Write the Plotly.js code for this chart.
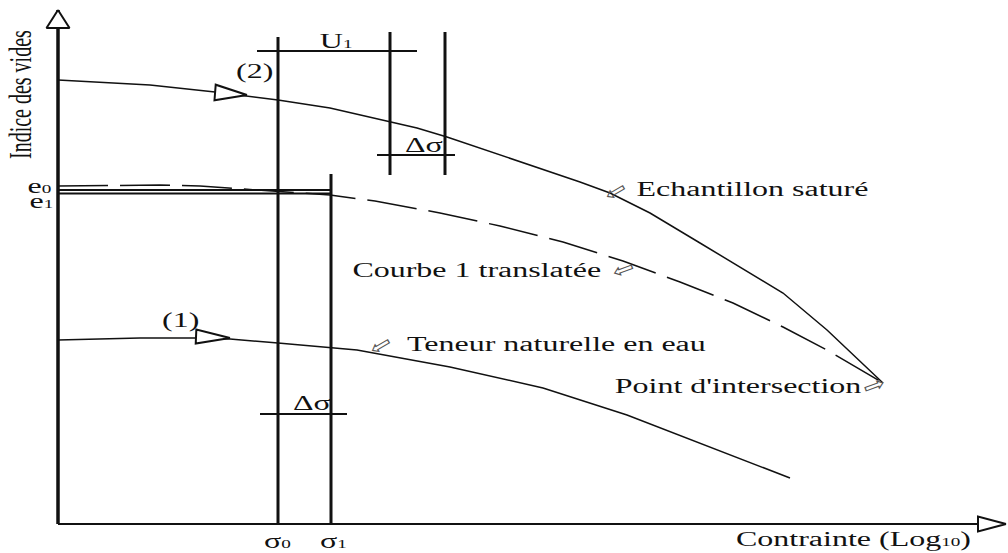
<!DOCTYPE html>
<html>
<head>
<meta charset="utf-8">
<script src="https://cdn.plot.ly/plotly-3.0.1.min.js"></script>
<style>
  html, body { margin: 0; padding: 0; background: #fff; }
  #chart { width: 1008px; height: 553px; }
</style>
</head>
<body>
<div id="chart"></div>
<script>
// Oedometer schematic: void ratio versus log10 of stress (arbitrary units).

// Saturated sample curve (2)
const saturatedLogStress = [0, 0.92, 1.57, 2.20, 2.72, 3.32, 3.59, 3.89, 4.42, 4.92, 5.22, 5.52, 5.92, 6.42, 6.92, 7.25, 7.69, 8.25];
const saturatedVoid      = [4.44, 4.39, 4.32, 4.24, 4.16, 4.02, 3.96, 3.87, 3.69, 3.52, 3.42, 3.31, 3.11, 2.81, 2.51, 2.31, 1.94, 1.41];

// Curve 1 shifted up to e0 (dashed)
const shiftedLogStress = [0, 0.62, 1.02, 1.42, 1.87, 2.52, 2.72, 3.17, 3.82, 4.42, 5.05, 5.65, 6.22, 6.75, 7.25, 7.69, 8.25];
const shiftedVoid      = [3.38, 3.385, 3.39, 3.38, 3.35, 3.30, 3.29, 3.23, 3.11, 2.98, 2.82, 2.63, 2.42, 2.21, 1.97, 1.74, 1.41];

// Natural water content curve (1)
const naturalLogStress = [0, 0.82, 1.39, 1.72, 2.20, 2.74, 2.99, 3.92, 4.85, 5.69, 6.52, 7.05, 7.32];
const naturalVoid      = [1.84, 1.86, 1.86, 1.85, 1.81, 1.76, 1.74, 1.57, 1.36, 1.09, 0.77, 0.56, 0.46];

// Reference stresses and void ratios
const sigma0 = 2.20, sigma1 = 2.73;
const e0 = 3.34, e1 = 3.305;
const swellStressA = 3.32, swellStressB = 3.87;

const INK = '#111';

function seg(x0, y0, x1, y1, w) {
  return { x: [x0, x1], y: [y0, y1], mode: 'lines', hoverinfo: 'skip',
           line: { color: INK, width: w } };
}

// open triangular head: tip point, direction (deg, counter-clockwise), length, half width
function openHead(tx, ty, deg, len, half, w) {
  const a = deg * Math.PI / 180, dx = Math.cos(a), dy = Math.sin(a);
  const bx = tx - len * dx, by = ty - len * dy;
  const px = -dy * half, py = dx * half;
  return { x: [tx, bx + px, bx - px, tx], y: [ty, by + py, by - py, ty],
           mode: 'lines', hoverinfo: 'skip', fill: 'toself', fillcolor: '#fff',
           line: { color: INK, width: w } };
}

const traces = [
  // axes
  seg(0, 0, 0, 5.14, 3.5),
  seg(0, 0, 9.48, 0, 2),
  // stress verticals
  seg(sigma0, 0, sigma0, 4.87, 3),
  seg(sigma1, 0, sigma1, 3.50, 3),
  seg(swellStressA, 3.49, swellStressA, 4.92, 3),
  seg(swellStressB, 3.49, swellStressB, 4.92, 3),
  // brackets
  seg(1.99, 4.73, 3.59, 4.73, 2),
  seg(3.19, 3.69, 3.97, 3.69, 2),
  seg(2.02, 1.10, 2.89, 1.10, 2),
  // e0 / e1 levels
  seg(0, e0, sigma1, e0, 1.8),
  seg(0, e1, sigma1, e1, 1.8),
  // curves
  { x: saturatedLogStress, y: saturatedVoid, mode: 'lines', hoverinfo: 'skip',
    line: { color: INK, width: 1.5 } },
  { x: shiftedLogStress, y: shiftedVoid, mode: 'lines', hoverinfo: 'skip',
    line: { color: INK, width: 1.5, dash: '50px,12px' } },
  { x: naturalLogStress, y: naturalVoid, mode: 'lines', hoverinfo: 'skip',
    line: { color: INK, width: 1.5 } },
  // arrow heads
  openHead(0, 5.14, 90, 0.18, 0.115, 2),
  openHead(9.48, 0, 0, 0.28, 0.075, 2),
  openHead(1.89, 4.29, -4.5, 0.32, 0.078, 2),
  openHead(1.72, 1.86, -2.5, 0.34, 0.07, 2)
];

const serif = { family: 'Liberation Serif, Times New Roman, serif', size: 20, color: INK };
const glyph = { family: 'DejaVu Sans', size: 22, color: '#555' };

// small index digits sitting on the baseline
function idx(d) { return '<span style="font-size:12px">' + d + '</span>'; }

function label(text, x, y, extra) {
  return Object.assign({ text: text, x: x, y: y, xref: 'x', yref: 'y', showarrow: false,
                         xanchor: 'center', yanchor: 'middle', font: serif }, extra || {});
}

const annotations = [
  label('Indice des vides', -0.38, 4.29, { textangle: -90 }),
  label('e' + idx('0'), -0.19, 3.385),
  label('e' + idx('1'), -0.17, 3.235),
  label('(2)', 1.96, 4.53),
  label('U' + idx('1'), 2.78, 4.83),
  label('Δσ', 3.66, 3.79),
  label('(1)', 1.22, 2.04),
  label('Δσ', 2.54, 1.21),
  label('σ' + idx('0'), 2.19, -0.17),
  label('σ' + idx('1'), 2.75, -0.17),
  label('Contrainte (Log' + idx('10') + ')', 7.95, -0.15),
  label('Echantillon saturé', 6.94, 3.35),
  label('Courbe 1 translatée', 4.19, 2.54),
  label('Teneur naturelle en eau', 4.98, 1.80),
  label("Point d'intersection", 6.80, 1.38),
  label('⇦', 5.57, 3.33, { font: glyph, textangle: -30 }),
  label('⇦', 5.65, 2.55, { font: glyph, textangle: -20 }),
  label('⇦', 3.22, 1.79, { font: glyph, textangle: -30 }),
  label('⇨', 8.16, 1.39, { font: glyph, textangle: -20 })
];

const layout = {
  width: 1008, height: 553,
  margin: { l: 0, r: 0, t: 0, b: 0 },
  paper_bgcolor: '#fff', plot_bgcolor: '#fff',
  showlegend: false,
  xaxis: { range: [-0.58, 9.50], visible: false, fixedrange: true },
  yaxis: { range: [-0.29, 5.24], visible: false, fixedrange: true },
  annotations: annotations
};

Plotly.newPlot('chart', traces, layout, { staticPlot: true }).then(function (gd) {
  // the typeface is set wide: stretch serif labels across the baseline
  gd.querySelectorAll('.annotation').forEach(function (g) {
    const i = +g.getAttribute('data-index');
    const ann = annotations[i];
    if (!ann) return;
    const t = g.querySelector('.annotation-text');
    if (!t) return;
    t.style.transformBox = 'fill-box';
    t.style.transformOrigin = 'center';
    if (ann.font === serif) {
      t.style.transform = ann.textangle === -90 ? 'scale(1, 1.6)' : 'scale(1.6, 1)';
    } else {
      t.style.transform = 'scale(1.2, 0.9)';
    }
  });
});
</script>
</body>
</html>
